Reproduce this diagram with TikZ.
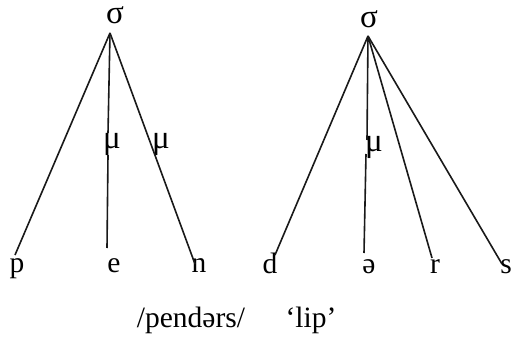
\documentclass[tikz,border=0pt]{standalone}
\usepackage{fontspec}
\setmainfont{Liberation Serif}
\begin{document}
\begin{tikzpicture}[x=1pt,y=-1pt,
  lab/.style={inner sep=0pt,anchor=base,font=\fontsize{29.5}{30}\selectfont},
  greek/.style={inner sep=0pt,anchor=base,font=\fontsize{33}{34}\selectfont},
  mora/.style={inner sep=0pt,anchor=base,font=\fontsize{33}{34}\selectfont},
  edge/.style={line width=1.6pt,black!90}]
\useasboundingbox (0,0) rectangle (511,337);
% left tree
\node[greek] (sigL) at (115,24) {σ};
\coordinate (aL) at (110,33);
\node[mora] (muL1) at (112,148) {μ};
\node[mora] (muL2) at (161,148) {μ};
\node[lab] (p) at (17,272) {p};
\node[lab] (e) at (114,272) {e};
\node[lab] (n) at (199,272) {n};
\coordinate (pe) at (15,255);
\coordinate (ee) at (107,248);
\coordinate (ne) at (195,264);
\coordinate (m1t) at (108,133);
\coordinate (m1b) at (108,155);
\draw[edge] (aL) -- (pe);
\draw[edge] (aL) -- (m1t);
\draw[edge] (m1b) -- (ee);
\draw[edge] (aL) -- (ne);
% right tree
\node[greek] (sigR) at (369,28) {σ};
\coordinate (aR) at (368,36);
\node[mora] (muR) at (374,151) {μ};
\node[lab] (d) at (270,273) {d};
\node[lab] (schwa) at (369,273) {ə};
\node[lab] (r) at (435,273) {r};
\node[lab] (s) at (506,273) {s};
\coordinate (de) at (275,255);
\coordinate (me) at (364,253);
\coordinate (re) at (432,258);
\coordinate (se) at (502,264);
\coordinate (m2t) at (367,140);
\coordinate (m2b) at (366,154);
\draw[edge] (aR) -- (de);
\draw[edge] (aR) -- (m2t);
\draw[edge] (m2b) -- (me);
\draw[edge] (aR) -- (re);
\draw[edge] (aR) -- (se);
% captions
\node[lab] (word) at (191,327) {/pendərs/};
\node[lab] (gloss) at (311,327) {‘lip’};
\end{tikzpicture}
\end{document}
